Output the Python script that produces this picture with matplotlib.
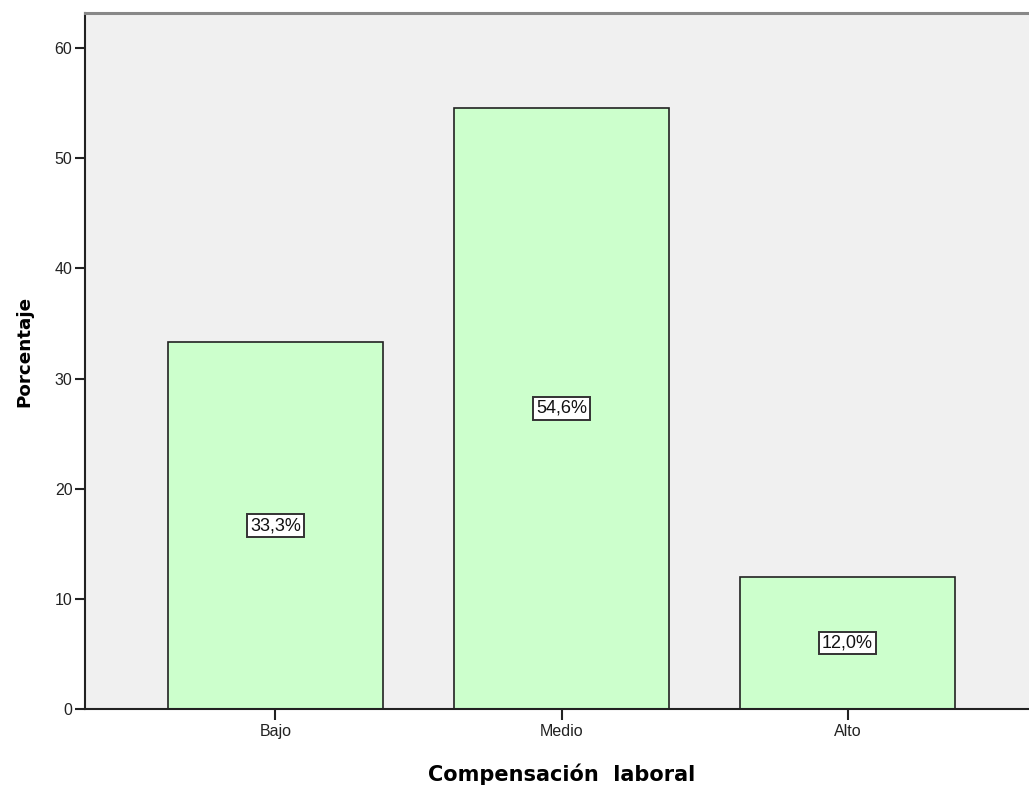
import matplotlib
matplotlib.use("Agg")
import matplotlib.pyplot as plt

categories = ["Bajo", "Medio", "Alto"]
percentages = [33.3, 54.6, 12.0]
y_ticks = [0, 10, 20, 30, 40, 50, 60]

plt.rcParams["font.family"] = ["Liberation Sans", "DejaVu Sans"]

fig = plt.figure(figsize=(10.29, 7.87), dpi=100)
ax = fig.add_axes([0.0826, 0.0991, 0.927, 0.8844])
ax.set_facecolor("#F0F0F0")

x = list(range(len(categories)))
ax.bar(x, percentages, width=0.752, color="#CCFFCC", edgecolor="#222222",
       linewidth=1.2, zorder=2)

for xi, v in zip(x, percentages):
    ax.text(xi, v / 2, f"{v:.1f}%".replace(".", ","), ha="center", va="center",
            fontsize=13, color="#111111", zorder=3,
            bbox=dict(boxstyle="square,pad=0.16", facecolor="white",
                      edgecolor="#333333", linewidth=1.4))

ax.set_xlim(-0.666, 2.669)
ax.set_ylim(0, 63.2)
ax.set_xticks(x)
ax.set_xticklabels(categories, fontsize=11.5, color="#222222")
ax.set_yticks(y_ticks)
ax.set_yticklabels([str(t) for t in y_ticks], fontsize=11.5, color="#222222")
ax.tick_params(axis="y", length=7.5, width=1.5, color="#222222", pad=1.5)
ax.tick_params(axis="x", length=8, width=1.5, color="#222222", pad=3)

ax.spines["left"].set_linewidth(1.5)
ax.spines["left"].set_color("#222222")
ax.spines["bottom"].set_linewidth(1.5)
ax.spines["bottom"].set_color("#222222")
ax.spines["top"].set_linewidth(2.2)
ax.spines["top"].set_color("#888888")
ax.spines["right"].set_visible(False)

ax.set_ylabel("Porcentaje", family=["DejaVu Sans"], fontsize=13.2,
              fontweight="bold")
ax.set_xlabel("Compensación  laboral", family=["DejaVu Sans"], fontsize=15,
              fontweight="bold")
ax.yaxis.set_label_coords(-0.0545, 0.514)
ax.xaxis.set_label_coords(0.5, -0.0776)

fig.savefig("out.png", dpi=100)
